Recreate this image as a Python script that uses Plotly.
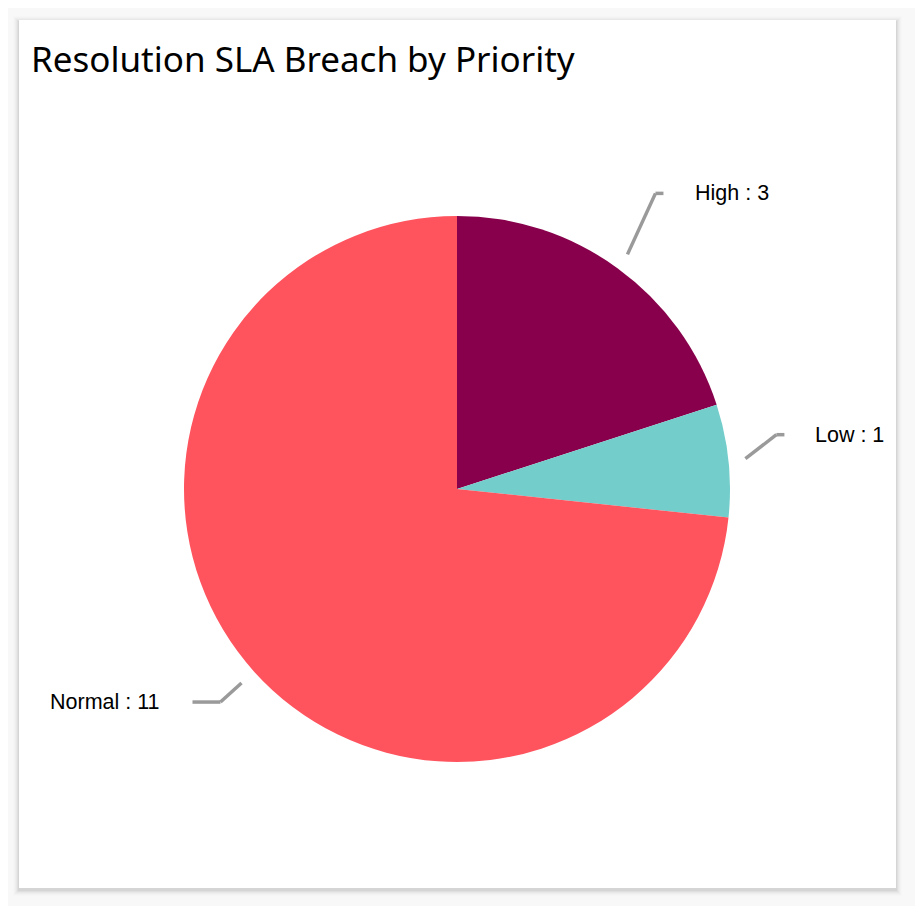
import math
import plotly.graph_objects as go

# ---- data ----
categories = ["High", "Low", "Normal"]
values = [3, 1, 11]
colors = ["#88004B", "#72CDCB", "#FF535E"]
title_text = "Resolution SLA Breach by Priority"

# ---- layout / style parameters (page pixels) ----
W, H = 923, 906
OFF = 8                            # page body margin
CX, CY, R = 457, 489, 273          # pie centre and radius
CARD = (19, 20, 896, 888)          # card box
LEADER_GAP = 17                    # distance of leader start outside pie
# per label: elbow vector from start, horizontal tail length, gap to text
LEADER = {
    "High":   dict(elbow=(28, -61), tail=8, gap=30),
    "Low":    dict(elbow=(31, -24), tail=8, gap=29),
    "Normal": dict(elbow=(-21, 19), tail=28, gap=30),
}

def px(x):
    return (x - OFF) / W

def py(y):
    return 1 - (y - OFF) / H

fig = go.Figure()
fig.add_trace(go.Pie(
    labels=categories, values=values, sort=False, direction="clockwise",
    rotation=0, marker=dict(colors=colors, line=dict(width=0)),
    textinfo="none", showlegend=False,
    domain=dict(x=[px(CX - R), px(CX + R)], y=[py(CY + R), py(CY - R)]),
))

shapes = []
# card shadow (soft layers, stronger at the bottom)
for i, op in enumerate([0.04, 0.035, 0.025, 0.018, 0.012, 0.008]):
    d = i + 1
    shapes.append(dict(type="rect", xref="paper", yref="paper", layer="below",
                       x0=px(CARD[0] - d), x1=px(CARD[2] + d),
                       y0=py(CARD[3] + d + 2), y1=py(CARD[1] - d + 2),
                       fillcolor=f"rgba(0,0,0,{op})", line=dict(width=0)))
shapes.append(dict(type="rect", xref="paper", yref="paper", layer="below",
                   x0=px(CARD[0]), x1=px(CARD[2]), y0=py(CARD[3]), y1=py(CARD[1]),
                   fillcolor="white", line=dict(width=0)))
# neighbouring card edge on the left
for i, op in enumerate([0.05, 0.035, 0.02]):
    shapes.append(dict(type="rect", xref="paper", yref="paper", layer="below",
                       x0=px(0), x1=px(2 + 2 * i), y0=py(CARD[3]), y1=py(CARD[1]),
                       fillcolor=f"rgba(0,0,0,{op})", line=dict(width=0)))

annotations = []
total = sum(values)
cum = 0
for cat, v in zip(categories, values):
    mid = (cum + v / 2) / total * 2 * math.pi
    cum += v
    sx = CX + (R + LEADER_GAP) * math.sin(mid)
    sy = CY - (R + LEADER_GAP) * math.cos(mid)
    cfg = LEADER[cat]
    ex, ey = sx + cfg["elbow"][0], sy + cfg["elbow"][1]
    right = math.sin(mid) >= 0
    tx = ex + (cfg["tail"] if right else -cfg["tail"])
    for (x0, y0, x1, y1) in [(sx, sy, ex, ey), (ex, ey, tx, ey)]:
        shapes.append(dict(type="line", xref="paper", yref="paper",
                           x0=px(x0), y0=py(y0), x1=px(x1), y1=py(y1),
                           line=dict(color="#9A9A9A", width=3.5)))
    lx = tx + (cfg["gap"] if right else -cfg["gap"])
    annotations.append(dict(
        x=px(lx), y=py(ey), xref="paper", yref="paper", showarrow=False,
        text=f"{cat} : {v}", xanchor="left" if right else "right", yanchor="middle",
        font=dict(family="Arial, Liberation Sans", size=21.5, color="#000000")))

annotations.append(dict(
    x=px(29), y=py(59), xref="paper", yref="paper", showarrow=False,
    text=title_text, xanchor="left", yanchor="middle",
    font=dict(family="Segoe UI, Noto Sans", size=35, color="#000000")))

fig.update_layout(
    width=W, height=H, margin=dict(l=0, r=0, t=0, b=0),
    paper_bgcolor="#F8F8F8", plot_bgcolor="#F8F8F8",
    shapes=shapes, annotations=annotations,
)
fig.write_html("out.html")
